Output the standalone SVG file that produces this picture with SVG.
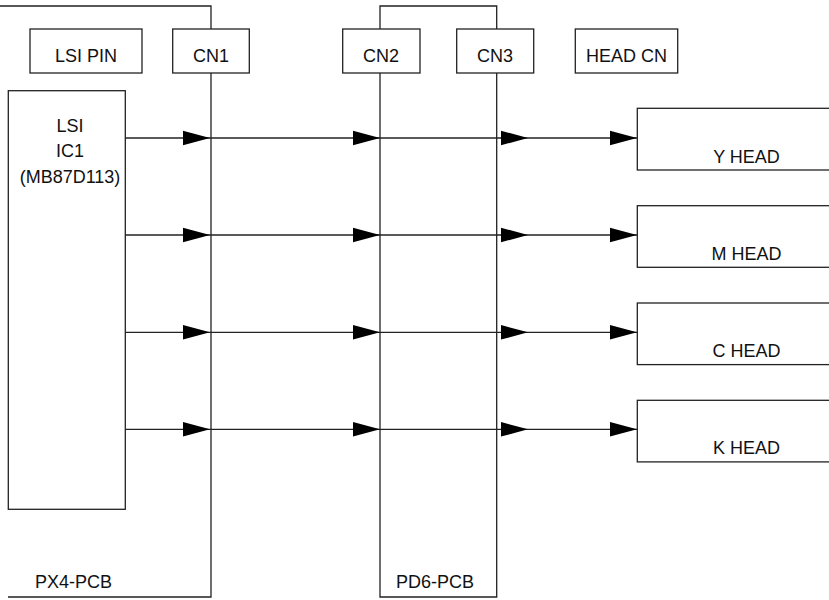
<svg xmlns="http://www.w3.org/2000/svg" width="829" height="600" viewBox="0 0 829 600">
  <style>
    .box { fill: #fff; stroke: #222; stroke-width: 1.3; }
    .wire { fill: none; stroke: #222; stroke-width: 1.3; }
    .lbl { font-family: "Liberation Sans", Arial, sans-serif; font-size: 18px; fill: #111; }
    .mid { text-anchor: middle; }
  </style>
  <defs>
    <path id="ah" d="M-27,-7.3 L0,0 L-27,7.3 Z" fill="#000"/>
  </defs>

  <!-- board outlines -->
  <g id="px4-pcb">
    <path class="wire" d="M0,6 H211 V597 H8"/>
    <text class="lbl" x="35" y="588">PX4-PCB</text>
  </g>
  <g id="pd6-pcb">
    <path class="wire" d="M380,29 V6 H496.7 V29"/>
    <path class="wire" d="M380,73 V597 H496.7 V73"/>
    <text class="lbl" x="396" y="588">PD6-PCB</text>
  </g>

  <!-- header labels -->
  <g id="lsi-pin">
    <rect class="box" x="30" y="29" width="112" height="44"/>
    <text class="lbl mid" x="86" y="62">LSI PIN</text>
  </g>
  <g id="cn1">
    <rect class="box" x="172.7" y="29" width="76.6" height="44"/>
    <text class="lbl mid" x="211" y="62">CN1</text>
  </g>
  <g id="cn2">
    <rect class="box" x="342.7" y="29" width="77.3" height="44"/>
    <text class="lbl mid" x="381" y="62">CN2</text>
  </g>
  <g id="cn3">
    <rect class="box" x="456.7" y="29" width="77" height="44"/>
    <text class="lbl mid" x="495" y="62">CN3</text>
  </g>
  <g id="head-cn">
    <rect class="box" x="575.3" y="29" width="102.4" height="44"/>
    <text class="lbl mid" x="626.5" y="62">HEAD CN</text>
  </g>

  <!-- LSI -->
  <g id="lsi">
    <rect class="box" x="8.3" y="90.7" width="117" height="418.6"/>
    <text class="lbl mid" x="70" y="132">LSI</text>
    <text class="lbl mid" x="70" y="157">IC1</text>
    <text class="lbl mid" x="70" y="183">(MB87D113)</text>
  </g>

  <!-- print heads -->
  <g id="y-head">
    <rect class="box" x="637.3" y="108.3" width="200" height="61.7"/>
    <text class="lbl mid" x="746.5" y="163">Y HEAD</text>
  </g>
  <g id="m-head">
    <rect class="box" x="637.3" y="205.7" width="200" height="61.6"/>
    <text class="lbl mid" x="746.5" y="259.5">M HEAD</text>
  </g>
  <g id="c-head">
    <rect class="box" x="637.3" y="303" width="200" height="61.6"/>
    <text class="lbl mid" x="746.5" y="357">C HEAD</text>
  </g>
  <g id="k-head">
    <rect class="box" x="637.3" y="400.3" width="200" height="61.6"/>
    <text class="lbl mid" x="746.5" y="454">K HEAD</text>
  </g>

  <!-- signal lines -->
  <g id="connectors">
    <g transform="translate(0,138)">
      <line class="wire" x1="125.3" y1="0" x2="637.3" y2="0"/>
      <use href="#ah" x="210"/><use href="#ah" x="380"/><use href="#ah" x="528"/><use href="#ah" x="637"/>
    </g>
    <g transform="translate(0,235)">
      <line class="wire" x1="125.3" y1="0" x2="637.3" y2="0"/>
      <use href="#ah" x="210"/><use href="#ah" x="380"/><use href="#ah" x="528"/><use href="#ah" x="637"/>
    </g>
    <g transform="translate(0,332.3)">
      <line class="wire" x1="125.3" y1="0" x2="637.3" y2="0"/>
      <use href="#ah" x="210"/><use href="#ah" x="380"/><use href="#ah" x="528"/><use href="#ah" x="637"/>
    </g>
    <g transform="translate(0,429.3)">
      <line class="wire" x1="125.3" y1="0" x2="637.3" y2="0"/>
      <use href="#ah" x="210"/><use href="#ah" x="380"/><use href="#ah" x="528"/><use href="#ah" x="637"/>
    </g>
  </g>
</svg>
